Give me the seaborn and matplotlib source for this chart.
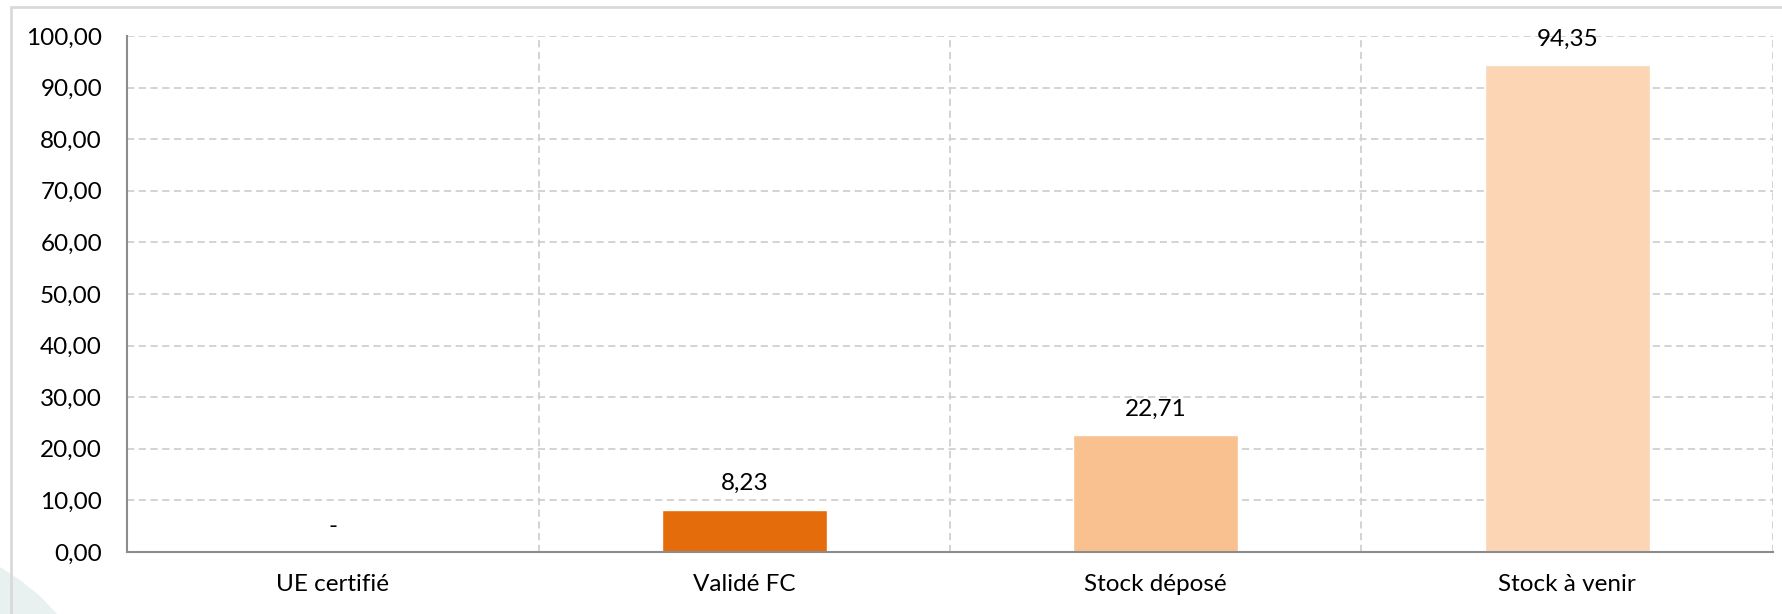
import matplotlib
matplotlib.use("Agg")
import matplotlib.pyplot as plt
import seaborn as sns
import pandas as pd
from matplotlib.patches import Rectangle, Polygon

categories = ["UE certifié", "Validé FC", "Stock déposé", "Stock à venir"]
values = [0.0, 8.23, 22.71, 94.35]
colors = ["#E46C0A", "#E46C0A", "#F9C190", "#FCD5B5"]
y_ticks = [0, 10, 20, 30, 40, 50, 60, 70, 80, 90, 100]

sns.set_theme(style="white")
plt.rcParams["font.family"] = ["Lato", "DejaVu Sans"]

W, H = 1783, 614
fig = plt.figure(figsize=(W / 100, H / 100), dpi=100)
ax = fig.add_axes([127 / W, 1 - 552 / H, (1773 - 127) / W, (552 - 36) / H])

df = pd.DataFrame({"cat": categories, "val": values})
sns.barplot(data=df, x="cat", y="val", hue="cat", palette=colors,
            width=0.4, legend=False, ax=ax, saturation=1, zorder=3)

ax.set_ylim(0, 100)
ax.set_xlim(-0.5, len(categories) - 0.5)
ax.set_yticks(y_ticks)
ax.set_yticklabels([f"{v:.2f}".replace(".", ",") for v in y_ticks])
ax.set_xlabel("")
ax.set_ylabel("")

grid_kw = dict(color="#D0D0D0", linewidth=1.3, linestyle=(0, (4, 2.5)))
ax.set_xticks([i + 0.5 for i in range(len(categories))], minor=True)
ax.grid(axis="y", which="major", **grid_kw, zorder=0)
ax.grid(axis="x", which="minor", **grid_kw, zorder=0)
ax.grid(axis="x", which="major", visible=False)
ax.set_axisbelow(True)

for side in ("top", "right"):
    ax.spines[side].set_visible(False)
for side in ("left", "bottom"):
    ax.spines[side].set_color("#8C8C8C")
    ax.spines[side].set_linewidth(1.5)
    ax.spines[side].set_zorder(4)

ax.tick_params(axis="both", which="both", length=0, labelsize=17.5, colors="black")
ax.tick_params(axis="y", pad=18)
ax.tick_params(axis="x", pad=16)

for i, v in enumerate(values):
    label = "-" if v == 0 else f"{v:.2f}".replace(".", ",")
    ax.annotate(label, (i, v), xytext=(0, 11), textcoords="offset points",
                ha="center", va="bottom", fontsize=17.5, color="black", zorder=5)

# background decoration and frame
fig.patches.append(Polygon([(0, 1 - 567 / H), (20 / W, 1 - 580 / H), (40 / W, 1 - 596 / H),
                            (57 / W, 0), (0, 0)],
                           closed=True, transform=fig.transFigure,
                           facecolor="#E8F1EF", edgecolor="none", zorder=0))
fig.patches.append(Rectangle((11 / W, -0.05), 1.05, 1 - 7 / H + 0.05,
                             transform=fig.transFigure, fill=False,
                             edgecolor="#D9D9D9", linewidth=2, zorder=1))

fig.savefig("out.png", dpi=100)
